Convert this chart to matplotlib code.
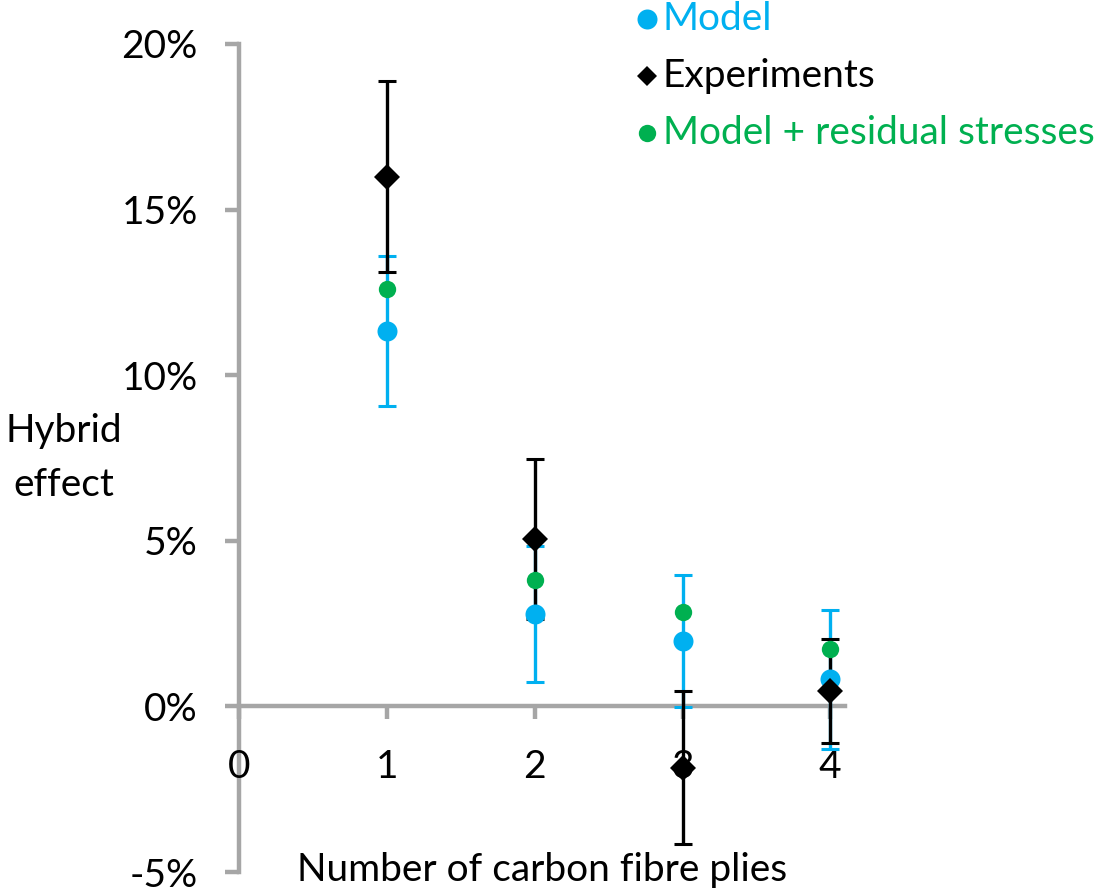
import matplotlib.pyplot as plt
from matplotlib.lines import Line2D
from matplotlib.ticker import FuncFormatter

plt.rcParams['font.family'] = ['Lato', 'DejaVu Sans']

# values in percent
plies = [1, 2, 3, 4]
model = [11.34, 2.80, 1.97, 0.82]
model_err = [2.27, 2.05, 2.0, 2.1]
exper = [15.99, 5.05, -1.85, 0.46]
exper_err = [2.88, 2.41, 2.31, 1.56]
resid = [12.6, 3.82, 2.85, 1.72]

blue = '#00B0F0'
green = '#00B050'
grey = '#A6A6A6'
fs = 28

fig = plt.figure(figsize=(11.02, 8.94), dpi=100)
ax = fig.add_axes([0.2173, 0.0246, 0.5495, 0.9262])

# error bars first, then markers on top
ax.errorbar(plies, model, yerr=model_err, fmt='none', ecolor=blue,
            elinewidth=2.4, capsize=6.5, capthick=2.2, zorder=2, clip_on=False)
ax.errorbar(plies, exper, yerr=exper_err, fmt='none', ecolor='k',
            elinewidth=2.4, capsize=6.5, capthick=2.2, zorder=3, clip_on=False)
ax.plot(plies, model, 'o', color=blue, ms=14.4, mew=0, zorder=4, clip_on=False)
ax.plot(plies, resid, 'o', color=green, ms=12.5, mew=0, zorder=5, clip_on=False)
ax.plot(plies, exper, 'D', color='k', ms=13.3, mew=0, zorder=6, clip_on=False)

ax.set_xlim(0, 4.1)
ax.set_ylim(-5, 20)
ax.set_xticks([0, 1, 2, 3, 4])
ax.set_yticks([-5, 0, 5, 10, 15, 20])
ax.yaxis.set_major_formatter(FuncFormatter(lambda v, p: '%d%%' % v))

for s in ['top', 'right']:
    ax.spines[s].set_visible(False)
ax.spines['left'].set_position(('data', 0))
ax.spines['bottom'].set_position(('data', 0))
for s in ['left', 'bottom']:
    ax.spines[s].set_color(grey)
    ax.spines[s].set_linewidth(3.2)
    ax.spines[s].set_zorder(1)

ax.tick_params(axis='y', direction='out', length=10, width=3.2, color=grey,
               labelsize=fs, pad=20)
ax.tick_params(axis='x', direction='out', length=9.5, width=3.2, color=grey,
               labelsize=fs, pad=21)
ax.set_facecolor('none')

ax.text(0.5, 0.002, 'Number of carbon fibre plies', transform=ax.transAxes,
        ha='center', va='center', fontsize=fs)
fig.text(64 / 1102, 1 - 458 / 894, 'Hybrid\neffect', ha='center', va='center',
         fontsize=fs, linespacing=1.6)

# legend, by hand
leg = [('Model', blue, 'o', 14.4, 19),
       ('Experiments', 'k', 'D', 10.5, 76),
       ('Model + residual stresses', green, 'o', 12.5, 133)]
for txt, c, m, ms, yy in leg:
    fy = 1 - yy / 894
    fig.add_artist(Line2D([647 / 1102], [fy], marker=m, color=c, ms=ms, mew=0,
                          transform=fig.transFigure))
    fig.text(663 / 1102, fy, txt, color=c, fontsize=fs, va='center', ha='left')

fig.savefig('out.png', dpi=100)
